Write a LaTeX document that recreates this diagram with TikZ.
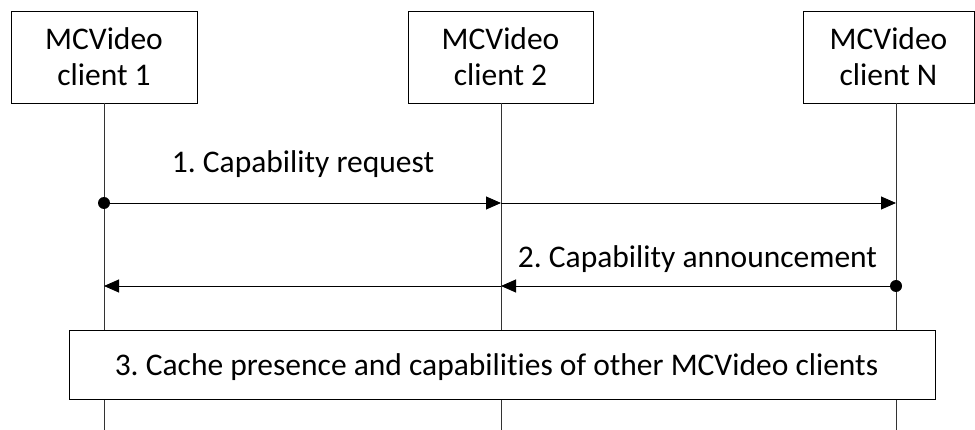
\documentclass[tikz,border=0pt]{standalone}
\usepackage{fontspec}
\setmainfont[Ligatures=NoCommon]{Carlito}
\usetikzlibrary{arrows.meta}
\frenchspacing
\begin{document}
\begin{tikzpicture}[x=1pt,y=-1pt,
  every node/.style={font=\fontsize{31.5}{36}\selectfont},
  actor/.style={draw, line width=0.9pt, fill=white, minimum height=92pt, align=center, inner sep=0pt},
  life/.style={line width=0.9pt, draw=black!80},
  msg/.style={line width=0.9pt, -{Triangle[length=15pt,width=13pt]}},
  lbl/.style={anchor=base, inner sep=0pt},
  notebox/.style={draw, line width=0.9pt, fill=white, minimum width=866pt, minimum height=69pt, inner sep=0pt}]
\useasboundingbox (0,0) rectangle (975,430);
% actors
\node[actor, minimum width=186pt] (c1) at (104,57) {MCVideo\\client 1};
\node[actor, minimum width=185pt] (c2) at (500.5,57) {MCVideo\\client 2};
\node[actor, minimum width=171pt] (cN) at (888.5,57) {MCVideo\\client N};
% lifeline ends
\coordinate (e1) at (104,430);
\coordinate (e2) at (501,430);
\coordinate (eN) at (896,430);
\coordinate (s1) at (104,103);
\coordinate (s2) at (501,103);
\coordinate (sN) at (896,103);
\draw[life] (s1) -- (e1);
\draw[life] (s2) -- (e2);
\draw[life] (sN) -- (eN);
% message points
\coordinate (a1) at (104,203);
\coordinate (a2) at (501,203);
\coordinate (aN) at (896,203);
\coordinate (b1) at (104,286);
\coordinate (b2) at (501,286);
\coordinate (bN) at (896,286);
% message 1
\draw[msg] (a1) -- (a2);
\draw[msg] (a2) -- (aN);
\fill (a1) circle (6pt);
\node[lbl] (m1) at (303,173) {1. Capability request};
% message 2
\draw[msg] (bN) -- (b2);
\draw[msg] (b2) -- (b1);
\fill (bN) circle (6pt);
\node[lbl] (m2) at (697.5,268) {2. Capability announcement};
% step 3
\node[notebox] (n3) at (502,364.5) {};
\node[lbl] (t3) at (496.5,375) {3. Cache presence and capabilities of other MCVideo clients};
\end{tikzpicture}
\end{document}
